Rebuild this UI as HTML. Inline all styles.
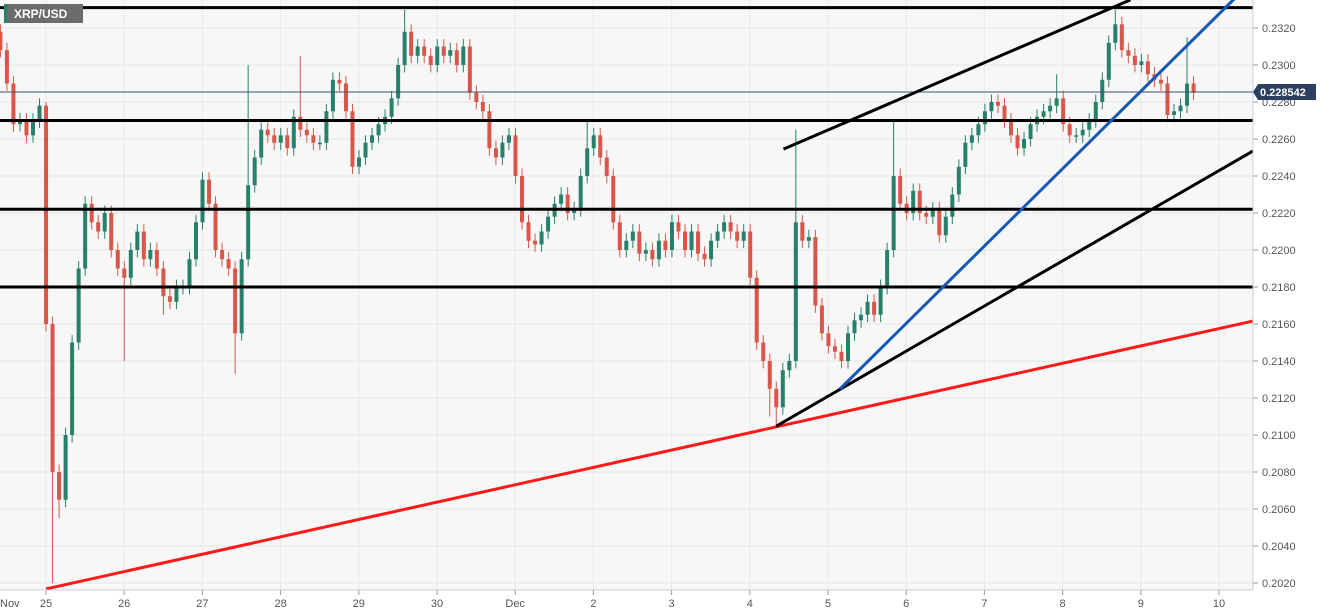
<!DOCTYPE html>
<html><head><meta charset="utf-8"><style>
html,body{margin:0;padding:0;background:#fff;}
svg{display:block;font-family:"Liberation Sans",sans-serif;}
</style></head><body>
<svg id="chart" width="1331" height="615">
<rect x="0" y="0" width="1253" height="590" fill="#f7f7f7"/>
<g id="grid"></g><g id="candles"></g><g id="overlays"></g><g id="axes"></g>
<g>
<rect x="4" y="4" width="79" height="19" fill="#6b6b6b"/><rect x="4" y="4" width="3" height="19" fill="#26806a"/>
<text x="14" y="18" font-size="12" font-weight="bold" fill="#fff">XRP/USD</text></g>
</svg>
<script>
// prices in units of 0.0001 ; 2-hour candles
const closes=[2308,2290,2268,2270,2262,2270,2278,2160,2080,2065,2100,2150,2190,2225,2215,2210,2220,2200,2190,2185,2200,2210,2195,2200,2190,2175,2172,2180,2180,2195,2215,2238,2225,2200,2195,2190,2155,2195,2235,2250,2265,2262,2258,2262,2255,2272,2265,2262,2258,2258,2275,2292,2290,2275,2245,2250,2258,2262,2268,2272,2282,2300,2318,2305,2310,2305,2300,2310,2305,2308,2300,2310,2285,2280,2275,2255,2250,2258,2262,2240,2215,2205,2203,2210,2218,2225,2230,2220,2222,2240,2255,2262,2250,2240,2215,2200,2205,2210,2198,2200,2195,2205,2200,2215,2210,2200,2210,2198,2195,2205,2210,2215,2210,2205,2210,2185,2150,2140,2125,2115,2135,2140,2215,2205,2207,2170,2155,2148,2145,2140,2155,2162,2165,2172,2165,2180,2200,2240,2225,2220,2232,2220,2218,2222,2208,2218,2230,2245,2258,2262,2268,2275,2280,2278,2270,2262,2255,2260,2268,2272,2275,2278,2282,2268,2262,2262,2265,2270,2280,2292,2312,2322,2308,2305,2300,2302,2295,2292,2290,2273,2275,2278,2290,2285];
const openFirst=2318;
const highOverrides={7:2280,38:2300,46:2305,62:2330,90:2270,122:2265,137:2270,162:2295,171:2330,182:2315};
const lowOverrides={8:2020,9:2055,19:2140,25:2165,36:2133,119:2105,118:2110};
const yTicks=[2020,2040,2060,2080,2100,2120,2140,2160,2180,2200,2220,2240,2260,2280,2300,2320];
const dayLabels=["25","26","27","28","29","30","Dec","2","3","4","5","6","7","8","9","10"];
const hLevels=[2331,2270,2222,2180];
const currentPrice=2285.42;
const trendRed=[[7,2016.8],[192.1,2161.6]];
const trendBlackLow=[[119,2104.8],[192.1,2253.5]];
const trendBlackHigh=[[120.1,2254.5],[173.3,2335.2]];
const trendBlue=[[128.8,2125],[189.2,2335.6]];

const X0=0.4,STEP=6.52;
const x=i=>X0+i*STEP;
const y=p=>28+(2320-p)*1.85;
const NS="http://www.w3.org/2000/svg";
function mk(tag,attrs,parent){const e=document.createElementNS(NS,tag);for(const k in attrs)e.setAttribute(k,attrs[k]);parent.appendChild(e);return e;}
const grid=document.getElementById('grid'),cg=document.getElementById('candles'),ov=document.getElementById('overlays'),ax=document.getElementById('axes');
yTicks.forEach(v=>{const l=mk('line',{x1:0,x2:1253,y1:y(v),y2:y(v),stroke:'#e4e4e4','stroke-width':1},grid);

mk('line',{x1:1253,x2:1258,y1:y(v),y2:y(v),stroke:'#999'},ax);
const t=mk('text',{x:1262,y:y(v)+4,'font-size':11,fill:'#555'},ax);t.textContent='0.'+v;
});
dayLabels.forEach((d,k)=>{const xx=46+k*78.2;
const l=mk('line',{x1:xx,x2:xx,y1:0,y2:590,stroke:'#e8e8e8'},grid);
mk('line',{x1:xx,x2:xx,y1:590,y2:595,stroke:'#999'},ax);
const t=mk('text',{x:xx,y:607,'font-size':11,fill:'#555','text-anchor':'middle'},ax);t.textContent=d;
});
{const t=mk('text',{x:0,y:607,'font-size':11,fill:'#555'},ax);t.textContent='Nov';}
mk('line',{x1:1253,x2:1253,y1:0,y2:590,stroke:'#c8cfe0'},ax);
mk('line',{x1:0,x2:1253,y1:590,y2:590,stroke:'#c8cfe0'},ax);
closes.forEach((c,i)=>{const o=i?closes[i-1]:openFirst;
const hi=highOverrides[i]!==undefined?highOverrides[i]:Math.max(o,c)+4;
const lo=lowOverrides[i]!==undefined?lowOverrides[i]:Math.min(o,c)-4;
const col=c>=o?'#26806a':'#d9574a';const cx=x(i);
const g=mk('g',{},cg);
mk('line',{x1:cx,x2:cx,y1:y(hi),y2:y(lo),stroke:col,'stroke-width':1},g);
const top=y(Math.max(o,c)),h=Math.max(1.5,y(Math.min(o,c))-top);
mk('rect',{x:cx-2,y:top,width:4,height:h,fill:col},g);});
hLevels.forEach(v=>{const l=mk('line',{x1:0,x2:1253,y1:y(v),y2:y(v),stroke:'#000','stroke-width':3},ov);
});
{const l=mk('line',{x1:0,x2:1253,y1:y(currentPrice),y2:y(currentPrice),stroke:'#3d4f6e','stroke-width':1},ov);
}
function tl(pts,col,name){const l=mk('line',{x1:x(pts[0][0]),y1:y(pts[0][1]),x2:x(pts[1][0]),y2:y(pts[1][1]),stroke:col,'stroke-width':3},ov);
}
tl(trendRed,'#ff1a1a','red-trendline');
tl(trendBlackLow,'#000','lower-black-trendline');
tl(trendBlackHigh,'#000','upper-black-trendline');
tl(trendBlue,'#1558b8','blue-trendline');
{const g=mk('g',{},ax);
const yy=y(currentPrice);mk('path',{d:`M1253 ${yy} L1258 ${yy-8} L1316 ${yy-8} L1316 ${yy+8} L1258 ${yy+8} Z`,fill:'#2b3f5f'},g);
const t=mk('text',{x:1260,y:yy+4,'font-size':11,'font-weight':'bold',fill:'#fff'},g);t.textContent='0.228542';}
</script>
</body></html>
